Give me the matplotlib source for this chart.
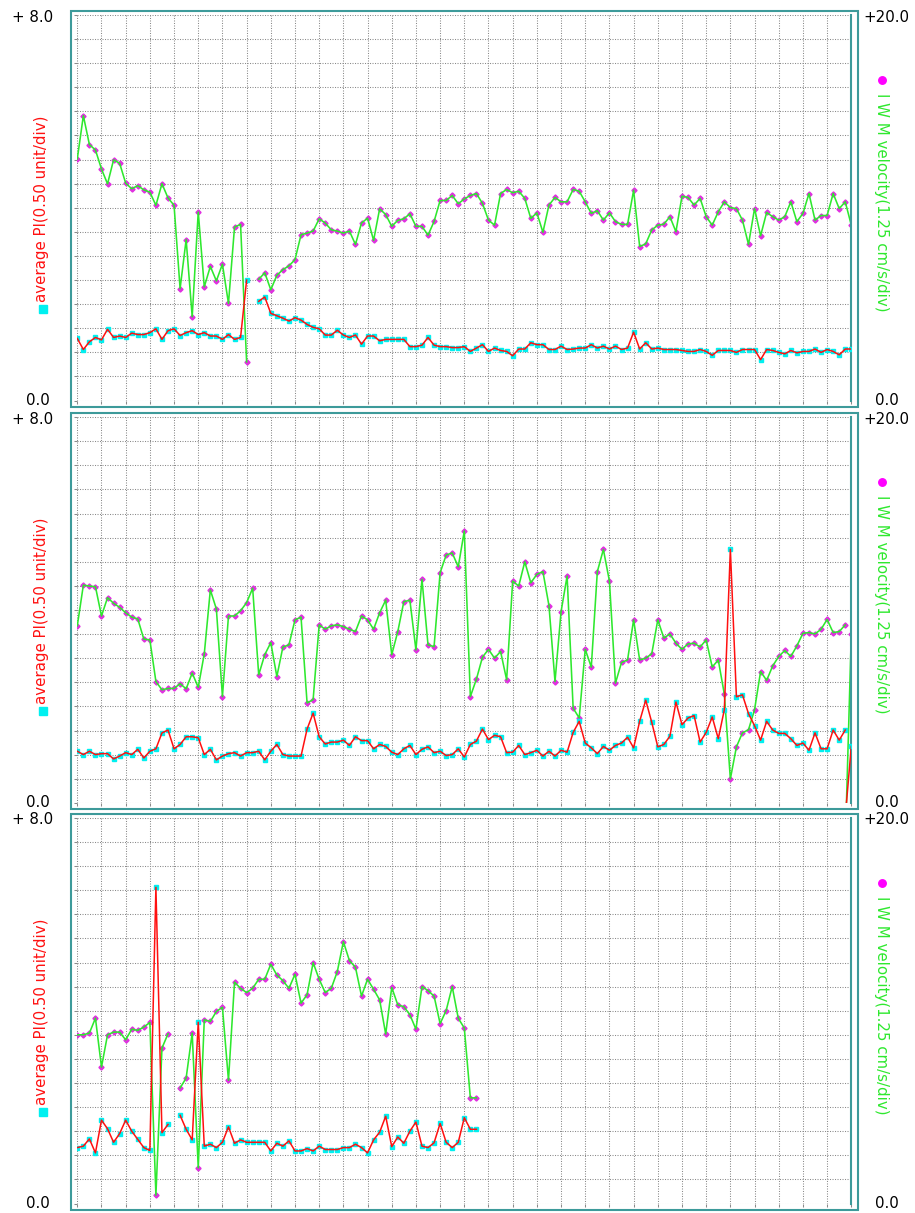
import numpy as np
import matplotlib
matplotlib.use("Agg")
import matplotlib.pyplot as plt
from matplotlib.patches import Rectangle
from matplotlib.lines import Line2D

nan = np.nan

# ---------------- data: average PI (unit) and I W M velocity (cm/s) ----------------
p1_pi = [1.29, 1.06, 1.22, 1.31, 1.26, 1.48, 1.31, 1.34, 1.31, 1.40,
         1.37, 1.37, 1.41, 1.49, 1.27, 1.45, 1.49, 1.35, 1.41, 1.45,
         1.37, 1.41, 1.34, 1.34, 1.27, 1.37, 1.27, 1.31, 2.50, nan,
         2.06, 2.15, 1.81, 1.76, 1.71, 1.65, 1.72, 1.67, 1.58, 1.52,
         1.49, 1.36, 1.36, 1.46, 1.36, 1.31, 1.36, 1.17, 1.34, 1.34,
         1.24, 1.27, 1.27, 1.27, 1.27, 1.12, 1.12, 1.15, 1.31, 1.15,
         1.12, 1.12, 1.10, 1.10, 1.12, 1.02, 1.09, 1.16, 1.02, 1.09,
         1.04, 1.02, 0.93, 1.07, 1.07, 1.20, 1.16, 1.16, 1.06, 1.06,
         1.13, 1.06, 1.07, 1.09, 1.09, 1.16, 1.09, 1.13, 1.07, 1.13,
         1.06, 1.09, 1.42, 1.07, 1.20, 1.07, 1.09, 1.06, 1.06, 1.06,
         1.04, 1.02, 1.02, 1.06, 1.02, 0.94, 1.04, 1.04, 1.04, 1.00,
         1.06, 1.06, 1.06, 0.85, 1.06, 1.04, 1.00, 0.97, 1.04, 0.99,
         1.02, 1.02, 1.07, 1.00, 1.06, 1.02, 0.95, 1.07, 1.07]

p1_vel = [12.54, 14.78, 13.28, 13.00, 12.01, 11.24, 12.49, 12.31, 11.28, 10.99,
          11.15, 10.93, 10.81, 10.13, 11.25, 10.51, 10.13, 5.81, 8.35, 4.35,
          9.78, 5.90, 6.96, 6.21, 7.08, 5.04, 9.00, 9.14, 2.01, nan,
          6.29, 6.63, 5.75, 6.50, 6.79, 6.99, 7.31, 8.60, 8.69, 8.79,
          9.43, 9.21, 8.86, 8.79, 8.69, 8.79, 8.10, 9.21, 9.46, 8.31,
          9.95, 9.65, 9.04, 9.35, 9.43, 9.69, 9.04, 9.04, 8.58, 9.29,
          10.38, 10.38, 10.64, 10.21, 10.46, 10.64, 10.74, 10.23, 9.36, 9.10,
          10.74, 10.95, 10.78, 10.86, 10.49, 9.45, 9.74, 8.73, 10.14, 10.54,
          10.31, 10.31, 10.95, 10.86, 10.31, 9.71, 9.85, 9.36, 9.74, 9.28,
          9.14, 9.14, 10.91, 7.99, 8.13, 8.85, 9.10, 9.15, 9.54, 8.76,
          10.60, 10.54, 10.14, 10.49, 9.54, 9.10, 9.79, 10.31, 10.01, 9.96,
          9.36, 8.10, 9.96, 8.55, 9.76, 9.54, 9.36, 9.54, 10.31, 9.28,
          9.71, 10.74, 9.36, 9.60, 9.60, 10.74, 9.96, 10.31, 9.10]

p2_pi = [1.07, 1.00, 1.07, 1.00, 1.02, 1.02, 0.91, 0.97, 1.04, 1.00,
         1.11, 0.93, 1.07, 1.12, 1.45, 1.51, 1.12, 1.21, 1.37, 1.37,
         1.35, 1.00, 1.11, 0.89, 0.97, 1.02, 1.04, 0.97, 1.04, 1.04,
         1.07, 0.89, 1.07, 1.21, 1.00, 0.97, 0.97, 0.97, 1.53, 1.86,
         1.37, 1.22, 1.26, 1.26, 1.30, 1.19, 1.37, 1.29, 1.29, 1.12,
         1.21, 1.17, 1.05, 1.00, 1.12, 1.19, 1.00, 1.11, 1.16, 1.04,
         1.07, 0.98, 1.00, 1.12, 0.95, 1.21, 1.28, 1.53, 1.31, 1.40,
         1.37, 1.04, 1.05, 1.19, 1.00, 1.04, 1.09, 0.97, 1.07, 0.97,
         1.09, 1.05, 1.46, 1.69, 1.24, 1.14, 1.02, 1.17, 1.09, 1.19,
         1.24, 1.36, 1.14, 1.69, 2.13, 1.67, 1.16, 1.21, 1.38, 2.09,
         1.62, 1.76, 1.81, 1.26, 1.46, 1.78, 1.33, 1.93, 5.26, 2.20,
         2.24, 1.85, 1.60, 1.30, 1.69, 1.51, 1.44, 1.44, 1.33, 1.19,
         1.24, 1.09, 1.45, 1.12, 1.12, 1.51, 1.30, 1.51]

p2_vel = [9.18, 11.29, 11.24, 11.21, 9.69, 10.64, 10.35, 10.14, 9.86, 9.63,
          9.54, 8.49, 8.45, 6.29, 5.86, 5.93, 5.93, 6.18, 5.91, 6.73,
          5.99, 7.73, 11.04, 10.05, 5.51, 9.69, 9.69, 9.96, 10.38, 11.13,
          6.64, 7.68, 8.31, 6.55, 8.08, 8.19, 9.49, 9.63, 5.18, 5.35,
          9.23, 9.00, 9.18, 9.23, 9.14, 9.00, 8.88, 9.69, 9.49, 9.00,
          9.86, 10.51, 7.68, 8.88, 10.43, 10.51, 7.93, 11.59, 8.19, 8.10,
          11.93, 12.85, 12.96, 12.24, 14.10, 5.51, 6.41, 7.55, 7.96, 7.50,
          7.85, 6.38, 11.50, 11.24, 12.50, 11.41, 11.85, 11.99, 10.23, 6.29,
          9.91, 11.76, 4.91, 4.40, 7.96, 7.04, 11.99, 13.14, 11.50, 6.21,
          7.28, 7.41, 9.49, 7.41, 7.50, 7.73, 9.49, 8.54, 8.76, 8.28,
          7.96, 8.24, 8.28, 8.08, 8.45, 7.04, 7.41, 5.64, 1.24, 2.90,
          3.63, 3.79, 4.83, 6.81, 6.35, 7.10, 7.59, 7.90, 7.59, 8.14,
          8.79, 8.83, 8.76, 9.00, 9.51, 8.83, 8.88, 9.23]

# the last record of the second trace restarts from zero
p2_tail_pos = [127.2, 128.0]
p2_tail_pi = [0.0, 1.17]
p2_tail_vel = [0.0, 8.75]

p3_pi = [1.16, 1.19, 1.34, 1.05, 1.73, 1.55, 1.27, 1.45, 1.73, 1.50,
         1.33, 1.16, 1.10, 6.56, 1.47, 1.64, nan, 1.83, 1.54, 1.32,
         3.76, 1.19, 1.23, 1.16, 1.27, 1.59, 1.25, 1.32, 1.27, 1.27,
         1.27, 1.27, 1.09, 1.25, 1.19, 1.30, 1.09, 1.09, 1.14, 1.09,
         1.19, 1.12, 1.12, 1.12, 1.16, 1.16, 1.23, 1.16, 1.05, 1.32,
         1.48, 1.81, 1.18, 1.38, 1.25, 1.50, 1.69, 1.19, 1.16, 1.26,
         1.66, 1.27, 1.16, 1.27, 1.78, 1.54, 1.54]

p3_vel = [8.75, 8.75, 8.84, 9.61, 7.08, 8.75, 8.89, 8.89, 8.49, 9.04,
          8.98, 9.15, 9.39, 0.43, 8.06, 8.80, nan, 5.99, 6.51, 8.84,
          1.85, 9.53, 9.44, 9.96, 10.18, 6.39, 11.48, 11.16, 10.94, 11.16,
          11.63, 11.63, 12.41, 11.85, 11.56, 11.16, 11.89, 10.39, 10.83, 12.49,
          11.63, 10.94, 11.16, 12.03, 13.58, 12.60, 12.25, 10.76, 11.63, 11.11,
          10.56, 8.79, 11.21, 10.30, 10.21, 9.79, 9.04, 11.25, 11.04, 10.76,
          9.33, 10.01, 11.25, 9.61, 9.10, 5.48, 5.48]

pi_max, vel_max = 8.0, 20.0
n_samples = 128                      # sweep width in samples
pi_label = "average PI(0.50 unit/div)"
vel_label = "I W M velocity(1.25 cm/s/div)"
left_top, left_bottom = "+ 8.0", "0.0"
right_top, right_bottom = "+20.0", "0.0"

# ---------------- styling ----------------
W, H = 915, 1213
TEAL = "#3d9a9a"
GRID = "#8a8a8a"
RED = "#ff1010"
GREEN = "#2ee82e"
CYAN = "#00f0f0"
MAGENTA = "#e030e0"

plt.rcParams["font.family"] = ["DejaVu Sans"]
plt.rcParams["font.size"] = 10.8

fig = plt.figure(figsize=(W / 100, H / 100), dpi=100, facecolor="white")

PLOT_L, PLOT_R = 77.3, 851.3
panel_tops = [15.0, 417.2, 817.9]
PANEL_H = 385.6


def fx(px):
    return px / W


def fy(py):
    return 1 - py / H


panels = [
    (p1_pi, p1_vel, None),
    (p2_pi, p2_vel, (p2_tail_pos, p2_tail_pi, p2_tail_vel)),
    (p3_pi, p3_vel, None),
]

for top, (pi, vel, tail) in zip(panel_tops, panels):
    bottom = top + PANEL_H
    ax = fig.add_axes([fx(PLOT_L), fy(bottom), fx(PLOT_R - PLOT_L), PANEL_H / H])
    ax.set_xlim(0, n_samples)
    ax.set_ylim(0, pi_max)
    ax.set_xticks(np.arange(0, n_samples + 1, 4))
    ax.set_yticks(np.arange(0, pi_max + 0.01, 0.5))
    ax.set_axisbelow(True)
    ax.grid(True, color=GRID, lw=0.75, ls=(0, (1, 1.4)))
    ax.tick_params(labelleft=False, labelbottom=False, direction="out",
                   length=2.4, width=0.75, color=GRID)
    for side in ("left", "top", "bottom"):
        ax.spines[side].set_visible(False)
    ax.spines["right"].set_color(TEAL)
    ax.spines["right"].set_linewidth(1.5)

    ax_v = ax.twinx()
    ax_v.set_ylim(0, vel_max)
    ax_v.axis("off")

    x = np.arange(len(pi))
    # velocity on the right-hand scale
    ax.plot(x, vel, ls="none", marker="D", ms=2.6, mfc=MAGENTA, mec=MAGENTA,
            transform=ax_v.transData, zorder=2)
    ax.plot(x, vel, color=GREEN, lw=1.15, transform=ax_v.transData, zorder=2.5)
    # average PI on the left-hand scale
    ax.plot(x, pi, ls="none", marker="s", ms=2.9, mfc=CYAN, mec=CYAN, zorder=3)
    ax.plot(x, pi, color=RED, lw=1.1, zorder=3.5)

    if tail is not None:
        tpos, tpi, tvel = tail
        ax.plot(tpos, tvel, color=GREEN, lw=1.15, transform=ax_v.transData, zorder=2.5)
        ax.plot(tpos[-1:], tvel[-1:], ls="none", marker="D", ms=2.6, mfc=MAGENTA,
                mec=MAGENTA, transform=ax_v.transData, zorder=2)
        ax.plot(tpos, tpi, color=RED, lw=1.1, zorder=3.5)
        ax.plot(tpos[-1:], tpi[-1:], ls="none", marker="s", ms=2.9, mfc=CYAN,
                mec=CYAN, zorder=3)

    # outer teal frame around the panel
    fig.add_artist(Rectangle((fx(PLOT_L - 6.3), fy(bottom + 6.0)),
                             fx((PLOT_R + 6.3) - (PLOT_L - 6.3)),
                             (PANEL_H + 10.2) / H,
                             transform=fig.transFigure, fill=False,
                             ec=TEAL, lw=1.5))

    # scale labels
    fig.text(fx(53), fy(top + 2), left_top, ha="right", va="center")
    fig.text(fx(50), fy(bottom), left_bottom, ha="right", va="center")
    fig.text(fx(909), fy(top + 2), right_top, ha="right", va="center")
    fig.text(fx(875), fy(bottom), right_bottom, ha="left", va="center")

    # channel legends
    fig.text(fx(41.5), fy(top + 193.5), pi_label, rotation=90,
             ha="center", va="center", color=RED)
    fig.add_artist(Line2D([fx(42.5)], [fy(top + 294)], marker="s", ms=5.8,
                          color=CYAN, ls="none", transform=fig.transFigure))
    fig.add_artist(Line2D([fx(882)], [fy(top + 64.7)], marker="o", ms=5.4,
                          color="#ff00ff", ls="none", transform=fig.transFigure))
    fig.text(fx(881), fy(top + 187), vel_label, rotation=270,
             ha="center", va="center", color=GREEN)

fig.savefig("out.png", dpi=100, facecolor="white")
